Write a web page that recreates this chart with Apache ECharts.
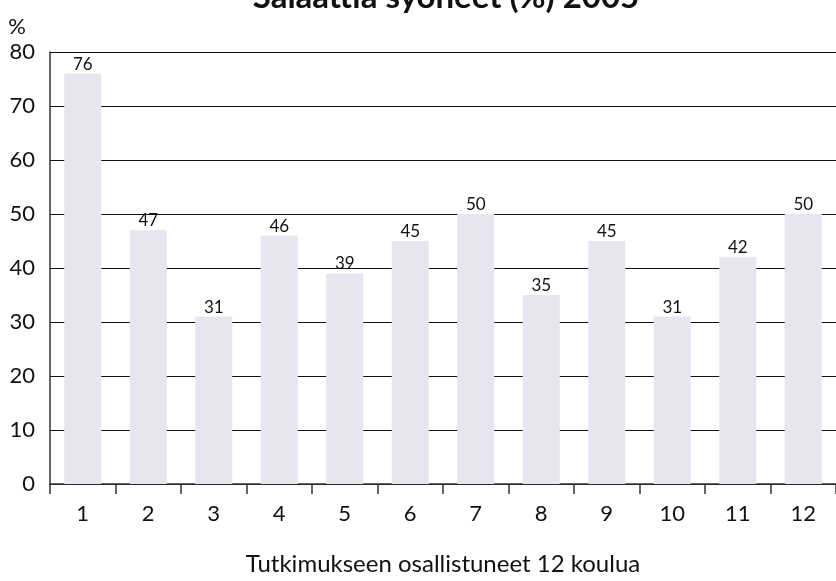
<!DOCTYPE html>
<html><head><meta charset="utf-8">
<script src="https://cdn.jsdelivr.net/npm/echarts@6/dist/echarts.min.js"></script>
<style>html,body{margin:0;padding:0;background:#fff}#c{width:836px;height:581px}</style>
</head><body><div id="c"></div>
<script>
const categories = ['1','2','3','4','5','6','7','8','9','10','11','12'];
const values = [76, 47, 31, 46, 39, 45, 50, 35, 45, 31, 42, 50];
const titleText = 'Salaattia syöneet (%) 2005';
const xName = 'Tutkimukseen osallistuneet 12 koulua';
const yName = '%';
const F = 'Lato, "Open Sans", sans-serif';
const chart = echarts.init(document.getElementById('c'));
chart.setOption({
  animation: false,
  graphic: [{
    type: 'text', x: 446, y: 14,
    style: { text: titleText, align: 'center', verticalAlign: 'bottom',
      font: 'bold 33px ' + F, fill: '#111' }
  }],
  grid: { left: 50, right: -6, top: 52, bottom: 91, containLabel: false },
  xAxis: {
    type: 'category', data: categories,
    name: xName, nameLocation: 'middle', nameGap: 68,
    nameTextStyle: { fontFamily: F, fontSize: 24, color: '#111' },
    axisLine: { lineStyle: { color: '#333', width: 1.5 } },
    axisTick: { show: true, alignWithLabel: false, length: 10, lineStyle: { color: '#333', width: 1.5 } },
    axisLabel: { fontFamily: F, fontSize: 22, color: '#111', margin: 19 }
  },
  yAxis: {
    type: 'value', min: 0, max: 80, interval: 10,
    name: yName, nameLocation: 'end', nameGap: 14,
    nameTextStyle: { fontFamily: F, fontSize: 22, color: '#111', align: 'right', padding: [0, 24, 0, 0] },
    axisLine: { show: true, lineStyle: { color: '#333', width: 1.5 } },
    axisTick: { show: false },
    axisLabel: { fontFamily: F, fontSize: 22, color: '#111', margin: 15 },
    splitLine: { lineStyle: { color: '#111', width: 1.2 } }
  },
  series: [{
    type: 'bar', data: values, barWidth: 37,
    itemStyle: { color: '#e7e6f0' },
    label: { show: true, position: 'top', distance: 1, fontFamily: F, fontSize: 17, color: '#111' }
  }]
});
</script></body></html>
